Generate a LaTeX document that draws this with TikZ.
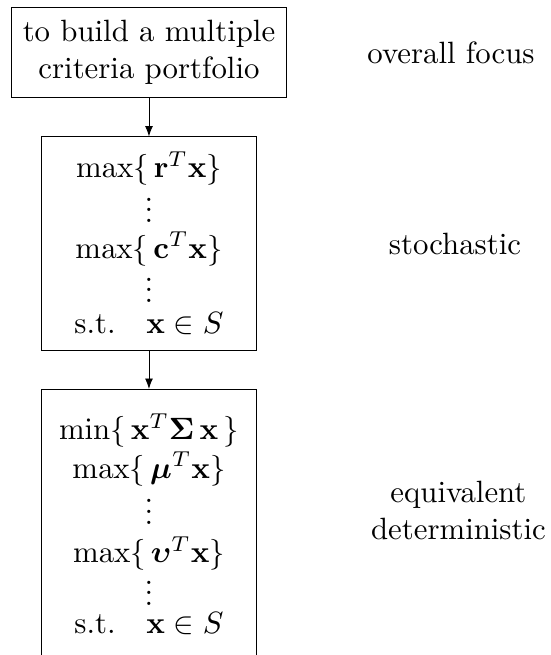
\documentclass[tikz,border=0pt]{standalone}
\usepackage{amssymb}
\usepackage{amsmath}
\usepackage{bm}
\usepackage{tikz}
\usetikzlibrary{arrows.meta}
\newcommand{\vdotsx}{\smash{\vbox{\baselineskip3.5pt \lineskiplimit0pt \hbox{.}\hbox{.}\hbox{.}}}}

\begin{document}
\begin{tikzpicture}[box/.style = {draw, line width = 0.3pt, align = center, inner sep = 0pt},
  link/.style = {-{Latex[length = 3.4pt, width = 2.6pt]}, line width = 0.3pt}]
\useasboundingbox (0, 0) rectangle (6.288, -7.475);
\node[box, minimum width = 89.6pt, minimum height = 29.5pt] (goal) at (1.7, -0.599)
  {to build a multiple\\criteria portfolio};
\node[box, minimum width = 69.5pt, minimum height = 69.2pt] (stoch) at (1.7, -2.779)
  {$\max\{\,\mathbf{r}^T\mathbf{x}\}$\\[2.5pt] \vdotsx\\[-0.5pt]
   $\max\{\,\mathbf{c}^T\mathbf{x}\}$\\[2.5pt] \vdotsx\\[-1.9pt]
   $\text{s.t.}\quad\mathbf{x}\in S$};
\node[box, anchor = north, minimum width = 69.5pt, minimum height = 87.4pt] (det) at (1.7, -4.439)
  {$\min\{\,\mathbf{x}^T\bm{\Sigma}\,\mathbf{x}\,\}$\\[0.6pt]
   $\max\{\,\bm{\mu}^T\mathbf{x}\}$\\[3pt] \vdotsx\\[0.4pt]
   $\max\{\,\bm{\upsilon}^T\mathbf{x}\}$\\[2pt] \vdotsx\\[-3pt]
   $\text{s.t.}\quad\mathbf{x}\in S$};
\draw[link] (goal) -- (stoch);
\draw[link] (stoch) -- (det);
\node (focus) at (5.147, -0.599) {overall focus};
\node (stochlbl) at (5.192, -2.779) {stochastic};
\node[align = center] (detlbl) at (5.232, -5.829) {equivalent\\deterministic};
\end{tikzpicture}
\end{document}
